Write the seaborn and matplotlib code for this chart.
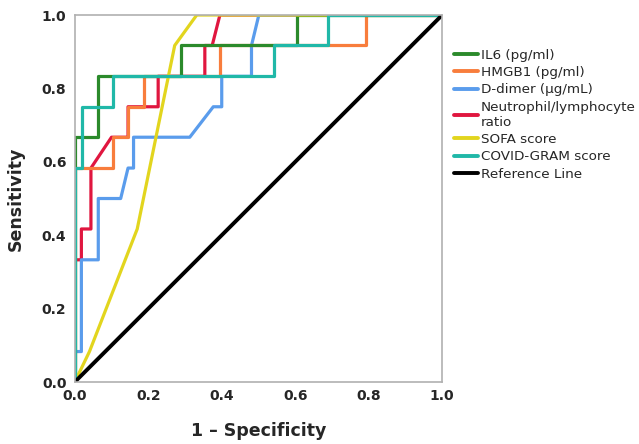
import numpy as np
import pandas as pd
import matplotlib
matplotlib.use("Agg")
import matplotlib.pyplot as plt
import seaborn as sns

# ROC curve vertices
il6_fpr = [0, 0, 0.062, 0.062, 0.29, 0.29, 0.604, 0.604, 1.0]
il6_tpr = [0, 0.667, 0.667, 0.833, 0.833, 0.917, 0.917, 1.0, 1.0]

hmgb1_fpr = [0, 0, 0.105, 0.105, 0.145, 0.145, 0.189, 0.189, 0.396, 0.396, 0.792, 0.792, 1.0]
hmgb1_tpr = [0, 0.583, 0.583, 0.667, 0.667, 0.75, 0.75, 0.833, 0.833, 0.917, 0.917, 1.0, 1.0]

ddimer_fpr = [0, 0, 0.018, 0.018, 0.064, 0.064, 0.125, 0.145, 0.16, 0.16, 0.313, 0.377, 0.4, 0.4, 0.481, 0.481, 0.501, 1.0]
ddimer_tpr = [0, 0.083, 0.083, 0.333, 0.333, 0.5, 0.5, 0.583, 0.583, 0.667, 0.667, 0.75, 0.75, 0.833, 0.833, 0.917, 1.0, 1.0]

nlr_fpr = [0, 0, 0.018, 0.018, 0.044, 0.044, 0.1, 0.145, 0.145, 0.227, 0.227, 0.354, 0.354, 0.374, 0.395, 1.0]
nlr_tpr = [0, 0.333, 0.333, 0.417, 0.417, 0.583, 0.667, 0.667, 0.75, 0.75, 0.833, 0.833, 0.917, 0.917, 1.0, 1.0]

sofa_fpr = [0, 0.04, 0.17, 0.272, 0.332, 1.0]
sofa_tpr = [0, 0.083, 0.417, 0.917, 1.0, 1.0]

gram_fpr = [0, 0, 0.021, 0.021, 0.104, 0.104, 0.542, 0.542, 0.689, 0.689, 1.0]
gram_tpr = [0, 0.583, 0.583, 0.75, 0.75, 0.833, 0.833, 0.917, 0.917, 1.0, 1.0]

ref_fpr = [0, 1.0]
ref_tpr = [0, 1.0]

labels = ["IL6 (pg/ml)", "HMGB1 (pg/ml)", "D-dimer (\u00b5g/mL)",
          "Neutrophil/lymphocyte\nratio", "SOFA score", "COVID-GRAM score",
          "Reference Line"]
colors = ["#2b8a2b", "#f87d3c", "#5a9cec", "#e0163f", "#e2d51e", "#20b8a8", "#000000"]
tick_vals = [0.0, 0.2, 0.4, 0.6, 0.8, 1.0]
tick_labels = ["0.0", "0.2", "0.4", "0.6", "0.8", "1.0"]

series = [(il6_fpr, il6_tpr), (hmgb1_fpr, hmgb1_tpr), (ddimer_fpr, ddimer_tpr),
          (nlr_fpr, nlr_tpr), (sofa_fpr, sofa_tpr), (gram_fpr, gram_tpr),
          (ref_fpr, ref_tpr)]

frames = []
for lab, (fx, ty) in zip(labels, series):
    frames.append(pd.DataFrame({"fpr": fx, "tpr": ty, "curve": lab,
                                "order": np.arange(len(fx))}))
df = pd.concat(frames, ignore_index=True)

sns.set_style("white")
plt.rcParams["font.family"] = ["DejaVu Sans"]

fig = plt.figure(figsize=(6.39, 4.44), dpi=100)
ax = fig.add_axes([0.117, 0.1396, 0.575, 0.8266])

draw_order = [labels[i] for i in [3, 2, 1, 0, 4, 5]]
for lab in draw_order:
    sub = df[df["curve"] == lab]
    sns.lineplot(data=sub, x="fpr", y="tpr", sort=False, estimator=None,
                 color=colors[labels.index(lab)], lw=2.3, ax=ax, legend=False)
sub = df[df["curve"] == labels[6]]
sns.lineplot(data=sub, x="fpr", y="tpr", sort=False, estimator=None,
             color="black", lw=2.8, ax=ax, legend=False)

ax.set_xlim(0, 1)
ax.set_ylim(0, 1)
ax.set_xticks(tick_vals)
ax.set_yticks(tick_vals)
ax.set_xticklabels(tick_labels, fontsize=10, fontweight="bold")
ax.set_yticklabels(tick_labels, fontsize=10, fontweight="bold")
ax.tick_params(axis="x", length=0, pad=5)
ax.tick_params(axis="y", length=0, pad=6)
ax.set_xlabel("1 \u2013 Specificity", fontsize=12.5, fontweight="bold", labelpad=14)
ax.set_ylabel("Sensitivity", fontsize=12.5, fontweight="bold", labelpad=12)
for s in ax.spines.values():
    s.set_color("#b0b0b0")
    s.set_linewidth(1.2)

handles = [plt.Line2D([], [], color=c, lw=2.8) for c in colors]
fig.legend(handles, labels, loc="upper left", bbox_to_anchor=(0.711, 0.89),
           frameon=False, fontsize=9.7, handlelength=1.75, handletextpad=0.2,
           labelspacing=0.32, borderaxespad=0, borderpad=0)

fig.savefig("out.png", dpi=100)
